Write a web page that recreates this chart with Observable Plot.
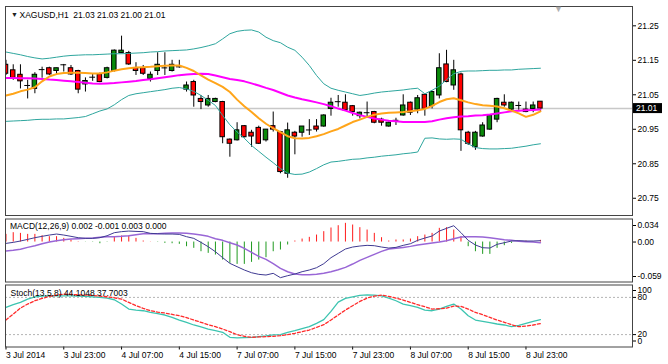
<!DOCTYPE html>
<html><head><meta charset="utf-8">
<script src="https://cdn.jsdelivr.net/npm/d3@7"></script>
<script src="https://cdn.jsdelivr.net/npm/@observablehq/plot@0.6"></script>
<style>
html,body{margin:0;padding:0;background:#fff;}
#wrap{position:relative;width:668px;height:364px;overflow:hidden;background:#fff;}
#wrap svg{position:absolute;left:0;}
</style></head><body><div id="wrap"></div>
<script>
// ---------- DATA ----------
const symbolTitle = "XAGUSD,H1  21.03 21.03 21.00 21.01";
const macdTitle = "MACD(12,26,9) 0.002 -0.001 0.003 0.000";
const stochTitle = "Stoch(13,5,8) 44.1048 37.7003";
const lastClose = 21.01;

const timeLabels = ["3 Jul 2014","3 Jul 23:00","4 Jul 07:00","4 Jul 15:00","7 Jul 07:00","7 Jul 15:00","7 Jul 23:00","8 Jul 07:00","8 Jul 15:00","8 Jul 23:00"];
const timeLabelBars = [0,8,16,24,32,40,48,56,64,72];
const priceTicks = [20.75,20.85,20.95,21.05,21.15,21.25];
const macdTicks = [0.034,0,-0.059];
const stochTicks = [100,80,20,0];
const stochLevels = [80,20];

const open = [21.137,21.121,21.108,21.077,21.067,21.123,21.127,21.119,21.137,21.127,
 21.119,21.080,21.101,21.109,21.099,21.119,21.171,21.171,21.127,21.127,
 21.096,21.119,21.128,21.119,21.131,21.065,21.087,21.038,21.019,21.029,
 21.029,20.920,20.918,20.959,20.940,20.954,20.918,20.959,20.942,20.821,
 20.940,20.940,20.948,20.958,20.958,21.009,21.030,21.027,21.017,20.988,
 20.998,21.000,20.978,20.958,20.976,20.990,21.027,21.007,21.050,21.017,
 21.048,21.138,21.077,21.109,20.940,20.898,20.929,20.949,20.978,21.027,
 21.007,21.019,21.007,21.009,21.030];
const high = [21.150,21.137,21.137,21.092,21.114,21.130,21.130,21.127,21.138,21.135,
 21.121,21.099,21.111,21.113,21.130,21.180,21.220,21.176,21.143,21.135,
 21.116,21.172,21.172,21.150,21.150,21.087,21.092,21.048,21.048,21.040,
 21.031,20.922,20.969,20.961,20.947,20.959,20.949,21.000,20.944,20.968,
 20.944,20.958,20.978,20.978,20.992,21.040,21.048,21.050,21.019,21.000,
 21.029,21.002,20.982,20.971,20.982,21.050,21.029,21.048,21.050,21.060,
 21.169,21.179,21.150,21.113,20.944,20.944,20.969,20.990,21.040,21.050,
 21.029,21.029,21.029,21.029,21.030];
const low = [21.106,21.092,21.067,21.038,21.053,21.098,21.106,21.109,21.116,21.106,
 21.053,21.058,21.089,21.085,21.096,21.116,21.169,21.135,21.106,21.106,
 21.087,21.106,21.106,21.116,21.127,21.058,21.014,21.007,21.014,21.027,
 20.908,20.869,20.916,20.925,20.898,20.906,20.913,20.942,20.821,20.808,
 20.876,20.927,20.932,20.942,20.956,20.988,21.014,21.002,20.988,20.980,
 20.985,20.966,20.959,20.956,20.961,20.988,20.990,20.995,20.988,21.009,
 21.038,21.085,21.063,20.886,20.903,20.889,20.927,20.947,20.969,21.014,
 21.000,21.005,20.998,20.998,21.000];
const close = [21.111,21.099,21.089,21.077,21.108,21.123,21.109,21.127,21.137,21.109,
 21.065,21.090,21.101,21.087,21.127,21.178,21.178,21.138,21.119,21.111,
 21.108,21.137,21.128,21.137,21.131,21.077,21.048,21.029,21.038,21.038,
 20.927,20.908,20.947,20.927,20.929,20.908,20.949,20.949,20.826,20.947,
 20.929,20.958,20.948,20.949,20.990,21.027,21.030,21.005,21.000,20.998,
 20.998,20.969,20.969,20.969,20.976,21.019,20.998,21.040,21.009,21.058,
 21.127,21.087,21.121,20.947,20.908,20.940,20.961,20.990,21.038,21.019,
 21.027,21.019,21.000,21.019,21.010];

const bbUpper = [21.174,21.170,21.166,21.161,21.157,21.154,21.156,21.159,21.162,21.164,
 21.165,21.166,21.166,21.167,21.168,21.169,21.169,21.170,21.171,21.172,
 21.174,21.175,21.177,21.178,21.179,21.180,21.183,21.187,21.192,21.198,
 21.212,21.227,21.234,21.237,21.238,21.232,21.217,21.207,21.201,21.188,
 21.179,21.159,21.135,21.106,21.082,21.069,21.063,21.058,21.053,21.048,
 21.051,21.055,21.058,21.060,21.062,21.064,21.067,21.069,21.053,21.063,
 21.075,21.094,21.111,21.118,21.119,21.119,21.120,21.121,21.121,21.122,
 21.122,21.124,21.125,21.126,21.127];
const bbLower = [20.973,20.974,20.975,20.976,20.978,20.979,20.979,20.980,20.980,20.982,
 20.984,20.987,20.995,21.003,21.009,21.021,21.036,21.048,21.053,21.056,
 21.059,21.062,21.065,21.069,21.071,21.067,21.060,21.048,21.034,21.019,
 20.990,20.963,20.942,20.924,20.903,20.886,20.869,20.853,20.836,20.823,
 20.819,20.820,20.826,20.836,20.847,20.855,20.857,20.860,20.863,20.864,
 20.867,20.869,20.872,20.874,20.876,20.879,20.881,20.884,20.924,20.925,
 20.922,20.921,20.922,20.921,20.908,20.897,20.894,20.893,20.893,20.894,
 20.895,20.898,20.901,20.905,20.908];
const maMagenta = [21.099,21.099,21.098,21.098,21.097,21.096,21.094,21.093,21.091,21.089,
 21.087,21.085,21.083,21.082,21.083,21.084,21.086,21.088,21.090,21.093,
 21.095,21.098,21.101,21.104,21.107,21.109,21.110,21.111,21.110,21.106,
 21.101,21.096,21.093,21.089,21.083,21.077,21.070,21.064,21.056,21.048,
 21.042,21.037,21.033,21.028,21.023,21.017,21.010,21.004,20.997,20.991,
 20.986,20.981,20.978,20.975,20.973,20.971,20.971,20.971,20.971,20.973,
 20.978,20.982,20.985,20.987,20.988,20.990,20.991,20.993,20.996,20.999,
 21.002,21.004,21.005,21.006,21.007];
const maOrange = [21.048,21.053,21.060,21.065,21.072,21.089,21.103,21.110,21.113,21.114,
 21.114,21.113,21.112,21.112,21.115,21.120,21.124,21.127,21.129,21.130,
 21.131,21.133,21.134,21.135,21.135,21.128,21.119,21.106,21.094,21.084,
 21.073,21.058,21.036,21.017,21.000,20.982,20.966,20.953,20.942,20.930,
 20.924,20.923,20.925,20.930,20.936,20.944,20.951,20.961,20.971,20.978,
 20.986,20.992,20.996,20.998,20.999,21.000,21.002,21.005,21.009,21.018,
 21.029,21.037,21.040,21.034,21.028,21.023,21.020,21.018,21.016,21.011,
 21.004,20.996,20.986,20.992,21.002];

const macdMain = [-0.0020,-0.0005,0.0015,0.0039,0.0064,0.0084,0.0103,0.0118,0.0103,0.0084,
 0.0064,0.0054,0.0054,0.0064,0.0093,0.0138,0.0153,0.0162,0.0157,0.0153,
 0.0128,0.0123,0.0118,0.0118,0.0113,0.0079,0.0054,-0.0005,-0.0069,-0.0143,
 -0.0231,-0.0315,-0.0364,-0.0413,-0.0453,-0.0477,-0.0487,-0.0462,-0.0526,-0.0497,
 -0.0472,-0.0438,-0.0413,-0.0379,-0.0320,-0.0231,-0.0167,-0.0103,-0.0074,-0.0059,
 -0.0049,-0.0054,-0.0074,-0.0089,-0.0079,-0.0049,-0.0025,0.0025,0.0059,0.0089,
 0.0162,0.0202,0.0241,0.0138,0.0025,-0.0044,-0.0084,-0.0089,-0.0034,-0.0010,
 0.0015,0.0020,0.0015,0.0015,0.0020];
const macdSignal = [-0.0133,-0.0123,-0.0108,-0.0079,-0.0054,-0.0025,0.0000,0.0020,0.0034,0.0044,
 0.0049,0.0054,0.0059,0.0069,0.0079,0.0079,0.0084,0.0093,0.0108,0.0123,
 0.0123,0.0123,0.0128,0.0133,0.0133,0.0128,0.0118,0.0103,0.0084,0.0049,
 0.0025,-0.0010,-0.0044,-0.0093,-0.0153,-0.0212,-0.0256,-0.0320,-0.0389,-0.0438,
 -0.0472,-0.0482,-0.0482,-0.0477,-0.0462,-0.0438,-0.0408,-0.0374,-0.0325,-0.0271,
 -0.0226,-0.0182,-0.0138,-0.0103,-0.0093,-0.0079,-0.0064,-0.0044,-0.0030,-0.0015,
 0.0000,0.0020,0.0049,0.0074,0.0079,0.0079,0.0074,0.0064,0.0049,0.0034,
 0.0025,0.0010,0.0005,0.0000,-0.0010];
const macdHist = [0.0113,0.0138,0.0128,0.0113,0.0113,0.0093,0.0079,0.0079,0.0054,0.0030,
 0.0005,-0.0003,-0.0005,-0.0025,-0.0005,0.0079,0.0089,0.0089,0.0054,0.0015,
 0.0003,-0.0005,-0.0020,-0.0025,-0.0034,-0.0069,-0.0093,-0.0143,-0.0167,-0.0192,
 -0.0266,-0.0315,-0.0330,-0.0330,-0.0300,-0.0266,-0.0231,-0.0143,-0.0118,-0.0044,
 0.0015,0.0044,0.0069,0.0103,0.0153,0.0207,0.0241,0.0276,0.0251,0.0212,
 0.0177,0.0128,0.0064,0.0015,0.0030,0.0030,0.0044,0.0079,0.0103,0.0128,
 0.0202,0.0212,0.0177,0.0079,-0.0069,-0.0143,-0.0182,-0.0182,-0.0093,-0.0054,
 -0.0020,0.0015,0.0015,0.0005,0.0025];

const stochMain = [63.9,68.2,71.9,77.3,81.0,82.1,82.6,82.6,82.6,82.6,
 82.1,81.6,81.0,80.0,78.9,76.2,69.3,61.2,59.6,58.5,
 55.8,53.7,51.6,47.8,43.5,39.8,35.5,32.3,29.0,26.4,
 23.7,15.6,14.6,15.1,15.6,16.7,17.8,19.4,19.9,23.7,
 26.4,29.6,32.8,38.2,44.1,57.4,72.5,78.3,81.0,83.2,
 84.2,83.7,82.6,78.9,74.6,69.3,66.6,63.9,59.6,58.5,
 61.2,65.5,69.3,61.2,50.5,43.5,41.4,39.2,37.1,35.5,
 32.8,34.9,38.2,41.4,44.1];
const stochSignal = [43.5,53.2,62.8,69.3,74.6,78.3,81.6,83.7,85.3,84.8,
 84.2,83.7,83.2,82.1,81.0,79.4,77.3,71.9,66.6,62.3,
 58.5,56.4,54.8,52.6,50.4,47.3,43.5,39.8,36.0,32.8,
 29.0,24.7,19.9,17.3,15.6,16.2,16.7,17.3,18.3,19.9,
 22.1,24.7,27.4,31.7,36.0,43.5,51.6,59.6,66.6,73.5,
 78.9,82.1,83.7,81.6,78.9,75.7,71.9,68.2,65.0,61.2,
 61.7,62.8,66.0,65.5,61.2,55.8,52.1,47.8,43.5,39.8,
 36.0,32.8,33.9,35.5,37.7];

// ---------- BUILD ----------
const rows = open.map((o, i) => ({
  i, open: o, high: high[i], low: low[i], close: close[i],
  upper: bbUpper[i], lower: bbLower[i], magenta: maMagenta[i], orange: maOrange[i],
  macd: macdMain[i], signal: macdSignal[i], hist: macdHist[i],
  k: stochMain[i], d: stochSignal[i]
}));

const W = 668;
const style = {fontFamily: '"Liberation Sans", Arial, sans-serif', fontSize: "8.5px", color: "#000", background: "transparent", overflow: "visible"};
const xOpt = {type: "linear", domain: [-0.069, 86.75], axis: null};
const M = {width: W, marginLeft: 5, marginRight: 36};
const frameColor = "#444";
const candleW = 0.31;
const fmt2 = d => d.toFixed(2);

const bull = rows.filter(d => d.close > d.open);
const bear = rows.filter(d => d.close < d.open);
const doji = rows.filter(d => d.close === d.open);

const main = Plot.plot({
  ...M, height: 216, marginTop: 6, marginBottom: 1, style,
  x: xOpt,
  y: {domain: [20.700, 21.306], axis: null},
  marks: [
    Plot.ruleY([lastClose], {stroke: "#c8c8c8", strokeWidth: 1.5}),
    Plot.ruleX(rows, {x: "i", y1: "low", y2: "high", stroke: "#000", strokeWidth: 1, clip: true}),
    Plot.rect(bull, {x1: d => d.i - candleW, x2: d => d.i + candleW, y1: "open", y2: "close", fill: "#0a8a0a", stroke: "#000", strokeWidth: 1, clip: true}),
    Plot.rect(bear, {x1: d => d.i - candleW, x2: d => d.i + candleW, y1: "open", y2: "close", fill: "#ff0000", stroke: "#000", strokeWidth: 1, clip: true}),
    Plot.ruleY(doji, {y: "open", x1: d => d.i - 0.4, x2: d => d.i + 0.4, stroke: "#000", strokeWidth: 1, clip: true}),
    Plot.line(rows, {x: "i", y: "upper", stroke: "#2ea69e", strokeWidth: 1}),
    Plot.line(rows, {x: "i", y: "lower", stroke: "#2ea69e", strokeWidth: 1}),
    Plot.line(rows, {x: "i", y: "magenta", stroke: "#ff00ff", strokeWidth: 2}),
    Plot.line(rows, {x: "i", y: "orange", stroke: "#ffa51a", strokeWidth: 2}),
    Plot.axisY(priceTicks, {anchor: "right", tickSize: 3, tickPadding: 2, tickFormat: fmt2, label: null}),
    Plot.frame({stroke: frameColor}),
    Plot.text(["▼"], {text: d => d, frameAnchor: "top-left", dx: 5.5, dy: 8, lineAnchor: "middle", textAnchor: "start", fontSize: 7, fill: "#222"}),
    Plot.text([symbolTitle], {text: d => d, frameAnchor: "top-left", dx: 14, dy: 8.5, lineAnchor: "middle", textAnchor: "start", fill: "#000"}),
    Plot.text(["▼"], {text: d => d, frameAnchor: "top-right", dx: -74, dy: 3, lineAnchor: "middle", textAnchor: "middle", fontSize: 9, fill: "#b0b0b0"})
  ]
});
main.style.top = "0px";

// last-price box on the price scale
{
  const ys = main.scale("y").apply(lastClose);
  const g = d3.select(main).append("g");
  g.append("rect").attr("x", 633).attr("y", ys - 5).attr("width", 29).attr("height", 10).attr("fill", "#000");
  g.append("text").attr("x", 636).attr("y", ys).attr("dy", "0.35em")
    .attr("text-anchor", "start").attr("fill", "#fff").text(fmt2(lastClose));
}

const macdFmt = d => d === 0 ? "0.00" : d.toFixed(3);
const macd = Plot.plot({
  ...M, height: 67, marginTop: 2.5, marginBottom: 1.5, style,
  x: xOpt,
  y: {domain: [-0.059, 0.034], axis: null},
  marks: [
    Plot.ruleX(rows.filter(d => d.hist >= 0), {x: "i", y1: 0, y2: "hist", stroke: "#ff1a1a", strokeWidth: 1}),
    Plot.ruleX(rows.filter(d => d.hist < 0), {x: "i", y1: 0, y2: "hist", stroke: "#1f9a1f", strokeWidth: 1}),
    Plot.line(rows, {x: "i", y: "signal", stroke: "#9966d6", strokeWidth: 1.5}),
    Plot.line(rows, {x: "i", y: "macd", stroke: "#3f3a92", strokeWidth: 1}),
    Plot.axisY([macdTicks[0]], {anchor: "right", tickSize: 3, tickPadding: 2, tickFormat: macdFmt, dy: 6.5, label: null}),
    Plot.axisY([macdTicks[1]], {anchor: "right", tickSize: 3, tickPadding: 2, tickFormat: macdFmt, label: null}),
    Plot.axisY([macdTicks[2]], {anchor: "right", tickSize: 3, tickPadding: 2, tickFormat: macdFmt, dy: -5.5, label: null}),
    Plot.frame({stroke: frameColor}),
    Plot.text([macdTitle], {text: d => d, frameAnchor: "top-left", dx: 4.5, dy: 7.5, lineAnchor: "middle", textAnchor: "start", fill: "#000"})
  ]
});
macd.style.top = "216px";

const stoch = Plot.plot({
  ...M, height: 81, marginTop: 1.5, marginBottom: 17.5, style,
  x: xOpt,
  y: {domain: [0, 100], axis: null},
  marks: [
    Plot.ruleY(stochLevels, {stroke: "#b4b4b4", strokeDasharray: "2,2"}),
    Plot.line(rows, {x: "i", y: "k", stroke: "#3cc4b0", strokeWidth: 1.3}),
    Plot.line(rows, {x: "i", y: "d", stroke: "#ff2a2a", strokeWidth: 1.3, strokeDasharray: "3,2"}),
    Plot.axisY([stochTicks[0]], {anchor: "right", tickSize: 3, tickPadding: 2, dy: 5.5, label: null}),
    Plot.axisY([stochTicks[1]], {anchor: "right", tickSize: 3, tickPadding: 2, label: null}),
    Plot.axisY([stochTicks[2]], {anchor: "right", tickSize: 3, tickPadding: 2, label: null}),
    Plot.axisY([stochTicks[3]], {anchor: "right", tickSize: 3, tickPadding: 2, dy: -6, label: null}),
    Plot.axisX(timeLabelBars, {anchor: "bottom", tickSize: 3, tickPadding: 2, textAnchor: "start", tickFormat: v => timeLabels[timeLabelBars.indexOf(v)], label: null}),
    Plot.frame({stroke: frameColor}),
    Plot.text([stochTitle], {text: d => d, frameAnchor: "top-left", dx: 5, dy: 8.5, lineAnchor: "middle", textAnchor: "start", fill: "#000"})
  ]
});
stoch.style.top = "283px";

const wrap = document.getElementById("wrap");
wrap.append(main, macd, stoch);
</script>
</body></html>
